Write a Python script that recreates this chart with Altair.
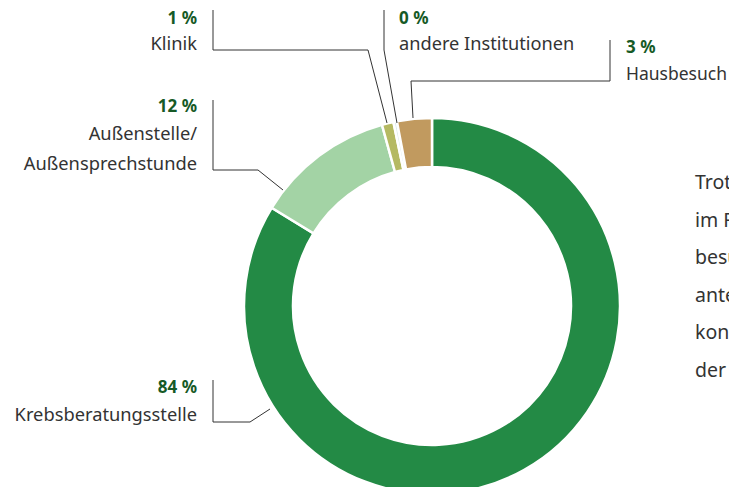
import altair as alt
import pandas as pd

# ---- data ----
categories = ["Krebsberatungsstelle", "Außenstelle/Außensprechstunde", "Klinik", "andere Institutionen", "Hausbesuch"]
values = [84, 12, 1, 0.3, 3]
pct_labels = ["84 %", "12 %", "1 %", "0 %", "3 %"]
colors = ["#238a45", "#a3d3a5", "#b5b962", "#dcecea", "#c19a5f"]

W, H = 721, 479
CX, CY = 424, 298

slices = pd.DataFrame({"cat": categories, "val": values, "order": list(range(len(values)))})

donut = alt.Chart(slices).mark_arc(innerRadius=139, outerRadius=188, stroke="white", strokeWidth=2.5).encode(
    theta=alt.Theta("val:Q", stack=True),
    order=alt.Order("order:Q"),
    color=alt.Color("cat:N", scale=alt.Scale(domain=categories, range=colors), legend=None),
    x=alt.value(CX),
    y=alt.value(CY),
)

xs = alt.Scale(domain=[0, W], range=[0, W])
ys = alt.Scale(domain=[0, H], range=[0, H])

# leader lines (layout, page coordinates minus margin)
leaders = [
    ("Klinik", [(205, 2), (205, 42), (360, 42), (379, 115)]),
    ("andere", [(376, 2), (376, 42), (389, 115)]),
    ("Haus", [(602, 32), (602, 73), (403, 73), (405, 110)]),
    ("Aussen", [(205, 92), (205, 162), (250, 162), (275, 182)]),
    ("Krebs", [(205, 372), (205, 414), (242, 414), (262, 401)]),
]
rows = []
for name, pts in leaders:
    for i, (px, py) in enumerate(pts):
        rows.append({"g": name, "i": i, "px": px, "py": py})
lines = alt.Chart(pd.DataFrame(rows)).mark_line(color="#333333", strokeWidth=1).encode(
    x=alt.X("px:Q", scale=xs, axis=None),
    y=alt.Y("py:Q", scale=ys, axis=None),
    detail="g:N",
    order="i:Q",
)

FONT = "Noto Sans"
pct_pos = [(189, 380, "right"), (189, 99, "right"), (189, 11, "right"), (391, 11, "left"), (618, 40, "left")]
pct_df = pd.DataFrame({
    "t": pct_labels,
    "px": [p[0] for p in pct_pos],
    "py": [p[1] for p in pct_pos],
    "al": [p[2] for p in pct_pos],
})
name_lines = [
    ("Krebsberatungsstelle", 189, 408, "right"),
    ("Außenstelle/", 189, 127, "right"),
    ("Außensprechstunde", 189, 157, "right"),
    ("Klinik", 189, 37, "right"),
    ("andere Institutionen", 391, 37, "left"),
]
names_df = pd.DataFrame({
    "t": [n[0] for n in name_lines],
    "px": [n[1] for n in name_lines],
    "py": [n[2] for n in name_lines],
    "al": [n[3] for n in name_lines],
})
haus_df = pd.DataFrame({"t": ["Hausbesuch"], "px": [618], "py": [67], "al": ["left"]})

def text_layer(df, align, **kw):
    return alt.Chart(df[df.al == align]).mark_text(align=align, baseline="middle", font=FONT, **kw).encode(
        x=alt.X("px:Q", scale=xs, axis=None),
        y=alt.Y("py:Q", scale=ys, axis=None),
        text="t:N",
    )

pct_r = text_layer(pct_df, "right", fontSize=17, fontWeight="bold", color="#165a26")
pct_l = text_layer(pct_df, "left", fontSize=17, fontWeight="bold", color="#165a26")
nm_r = text_layer(names_df, "right", fontSize=18.3, color="#333333")
nm_l = text_layer(names_df, "left", fontSize=18.2, color="#333333")
haus = text_layer(haus_df, "left", fontSize=17.5, color="#333333")

body_lines = ["Trotz", "im R", "besu", "ante", "kon", "der"]
body_df = pd.DataFrame({"t": body_lines, "px": [687] * 6, "py": [175 + 37.6 * i for i in range(6)], "al": ["left"] * 6})
body = text_layer(body_df, "left", fontSize=19.5, color="#333333")

chart = alt.layer(donut, lines, pct_r, pct_l, nm_r, nm_l, haus, body).properties(
    width=W, height=H, padding=0, autosize=alt.AutoSizeParams(type="none")
).configure_view(stroke=None)

chart.save("out.html", embed_options={"renderer": "svg", "actions": False})
